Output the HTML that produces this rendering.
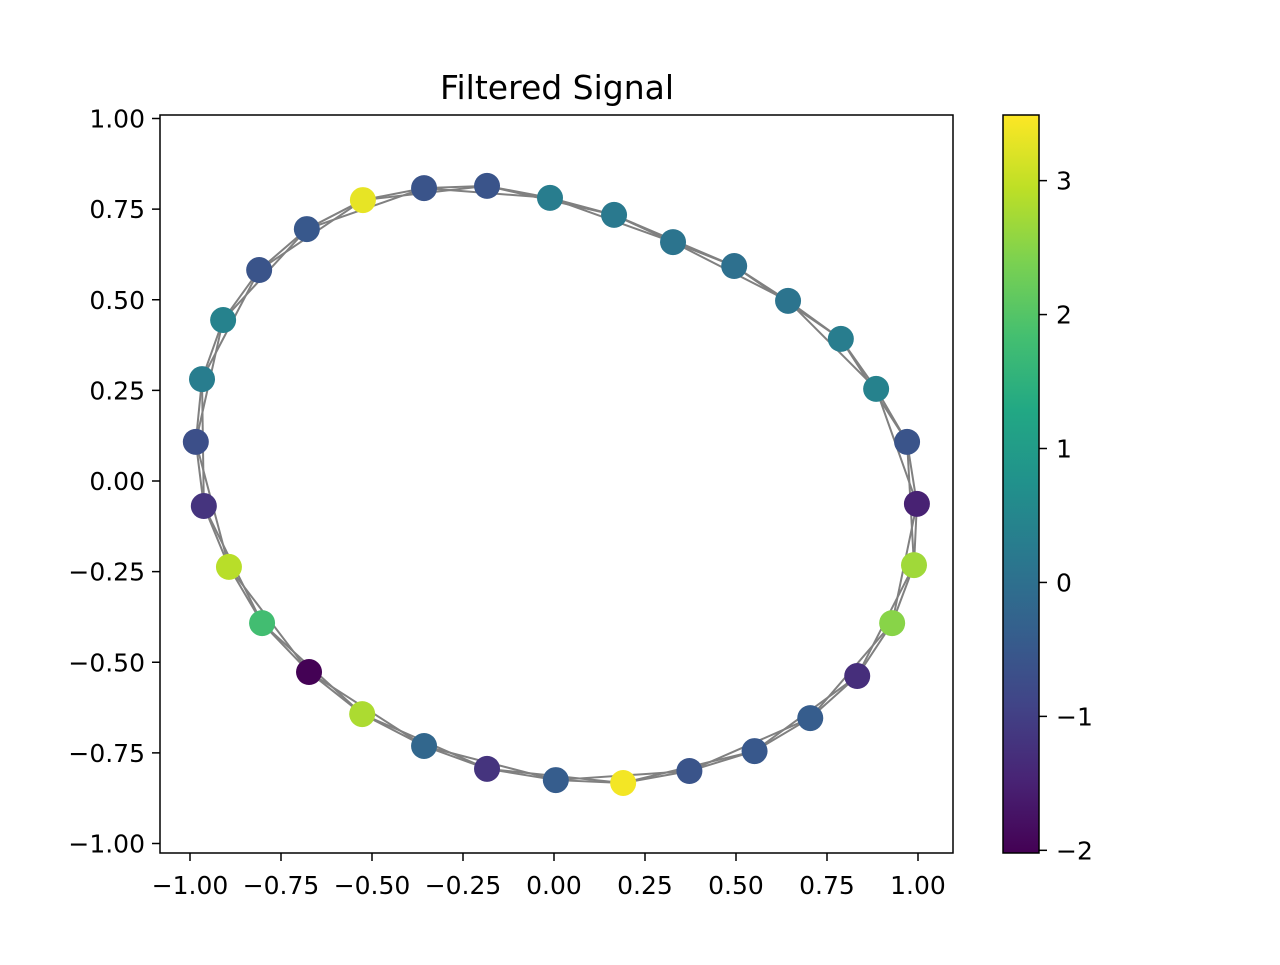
<!DOCTYPE html>
<html><head><meta charset="utf-8"><style>
body{margin:0;background:#fff;}
text{font-family:"DejaVu Sans","Liberation Sans",sans-serif;}
</style></head><body>
<svg id="chart" width="1280" height="960" xmlns="http://www.w3.org/2000/svg">
<defs><linearGradient id="vir" x1="0" y1="1" x2="0" y2="0">
<stop offset="0" stop-color="#440154"/><stop offset="0.1" stop-color="#482475"/><stop offset="0.2" stop-color="#414487"/><stop offset="0.3" stop-color="#355f8d"/><stop offset="0.4" stop-color="#2a788e"/><stop offset="0.5" stop-color="#21918c"/><stop offset="0.6" stop-color="#22a884"/><stop offset="0.7" stop-color="#44bf70"/><stop offset="0.8" stop-color="#7ad151"/><stop offset="0.9" stop-color="#bddf26"/><stop offset="1" stop-color="#fde725"/>
</linearGradient></defs>
<g id="edges"></g>
<g id="nodes"></g>
<rect x="160" y="115" width="793" height="738" fill="none" stroke="#000" stroke-width="1.5"/>
<text x="557" y="99" font-size="33" text-anchor="middle">Filtered Signal</text>
<g id="xt"></g>
<g id="yt"></g>
<rect x="1003" y="115" width="36" height="738" fill="url(#vir)" stroke="#000" stroke-width="1.5"/>
<g id="ct"></g>
</svg>
<script>
const nodeX=[0.997,0.989,0.929,0.833,0.704,0.551,0.372,0.190,0.005,-0.184,-0.357,-0.527,-0.673,-0.802,-0.893,-0.962,-0.984,-0.967,-0.909,-0.810,-0.679,-0.525,-0.357,-0.184,-0.011,0.165,0.327,0.495,0.643,0.788,0.885,0.970];
const nodeY=[-0.063,-0.232,-0.392,-0.538,-0.654,-0.745,-0.800,-0.833,-0.825,-0.794,-0.731,-0.643,-0.527,-0.392,-0.237,-0.069,0.108,0.281,0.444,0.582,0.695,0.775,0.808,0.814,0.781,0.734,0.659,0.593,0.497,0.392,0.254,0.108];
const signal=[-1.5,2.7,2.5,-1.3,-0.4,-0.5,-0.6,3.4,-0.4,-1.2,-0.2,2.8,-2.0,1.8,2.9,-1.2,-0.7,0.3,0.4,-0.6,-0.5,3.3,-0.6,-0.6,0.3,0.2,0.1,0.0,0.1,0.3,0.4,-0.6];
const xTicks=[-1,-0.75,-0.5,-0.25,0,0.25,0.5,0.75,1];
const yTicks=[-1,-0.75,-0.5,-0.25,0,0.25,0.5,0.75,1];
const cTicks=[-2,-1,0,1,2,3];
const vmin=-2.02,vmax=3.49;
const sx=v=>554+v*364, sy=v=>481-v*362.5, sc=v=>853-(v-vmin)/(vmax-vmin)*738;
const NS="http://www.w3.org/2000/svg";
const stops=["#440154","#482475","#414487","#355f8d","#2a788e","#21918c","#22a884","#44bf70","#7ad151","#bddf26","#fde725"];
function hx(c){return [1,3,5].map(i=>parseInt(c.substr(i,2),16));}
function vir(v){let t=Math.max(0,Math.min(1,(v-vmin)/(vmax-vmin)))*10;let i=Math.min(9,Math.floor(t)),f=t-i;let a=hx(stops[i]),b=hx(stops[i+1]);return "rgb("+a.map((x,k)=>Math.round(x+(b[k]-x)*f)).join(",")+")";}
function mk(tag,at,par){const e=document.createElementNS(NS,tag);for(const k in at)e.setAttribute(k,at[k]);document.getElementById(par).appendChild(e);return e;}
const n=nodeX.length;
for(let i=0;i<n;i++)for(const d of [1,2]){const j=(i+d)%n;
const l=mk("line",{x1:sx(nodeX[i]),y1:sy(nodeY[i]),x2:sx(nodeX[j]),y2:sy(nodeY[j]),stroke:"#808080","stroke-width":2},"edges");

}
for(let i=0;i<n;i++){const c=mk("circle",{cx:sx(nodeX[i]),cy:sy(nodeY[i]),r:13,fill:vir(signal[i])},"nodes");

}
const fmt=v=>(v<0?"\u2212":"")+Math.abs(v).toFixed(2);
for(const v of xTicks){const x=sx(v);
const t=mk("line",{x1:x,y1:853,x2:x,y2:861,stroke:"#000","stroke-width":1.5},"xt");


const tx=mk("text",{x:x,y:894,"font-size":"25","text-anchor":"middle"},"xt");tx.textContent=fmt(v);

}
for(const v of yTicks){const y=sy(v);
const t=mk("line",{x1:152,y1:y,x2:160,y2:y,stroke:"#000","stroke-width":1.5},"yt");


const tx=mk("text",{x:145,y:y+9,"font-size":"25","text-anchor":"end"},"yt");tx.textContent=fmt(v);

}
for(const v of cTicks){const y=sc(v);
const t=mk("line",{x1:1039,y1:y,x2:1047,y2:y,stroke:"#000","stroke-width":1.5},"ct");


const tx=mk("text",{x:1056,y:y+9,"font-size":"25"},"ct");tx.textContent=(v<0?"\u2212":"")+Math.abs(v);

}
</script>
</body></html>
